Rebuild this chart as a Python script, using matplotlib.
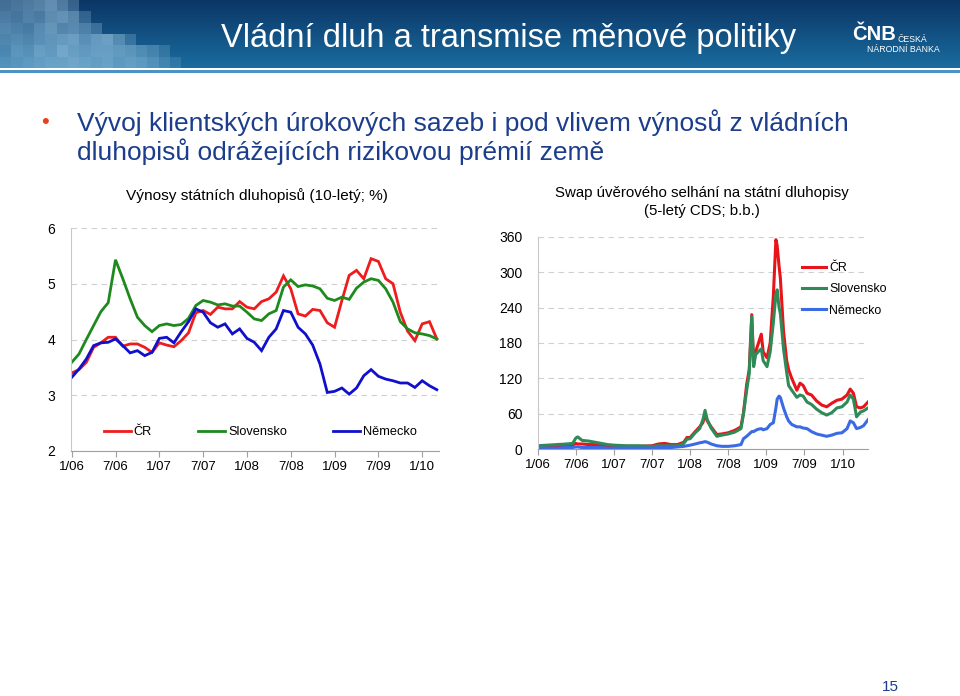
import numpy as np
import matplotlib.pyplot as plt
from matplotlib.patches import Rectangle
from matplotlib.lines import Line2D
from matplotlib.colors import to_rgb

plt.rcParams['font.family'] = ['Liberation Sans', 'DejaVu Sans']

# --- data -----------------------------------------------------------------
tick_labels = ['1/06', '7/06', '1/07', '7/07', '1/08', '7/08', '1/09', '7/09', '1/10']
tick_months = [0, 6, 12, 18, 24, 30, 36, 42, 48]

# 10y government bond yields, monthly 1/06 - 3/10 (%)
cz_yield = [3.40, 3.46, 3.59, 3.86, 3.94, 4.04, 4.04, 3.88, 3.92, 3.92, 3.86, 3.77,
            3.94, 3.90, 3.87, 3.98, 4.12, 4.48, 4.52, 4.45, 4.58, 4.55, 4.55, 4.68,
            4.58, 4.55, 4.68, 4.73, 4.85, 5.14, 4.91, 4.46, 4.42, 4.54, 4.52, 4.30,
            4.22, 4.70, 5.15, 5.24, 5.09, 5.45, 5.40, 5.09, 5.00, 4.49, 4.15, 3.98,
            4.28, 4.32, 4.01]
sk_yield = [3.59, 3.74, 4.00, 4.25, 4.50, 4.66, 5.43, 5.09, 4.73, 4.40, 4.25, 4.14,
            4.25, 4.28, 4.25, 4.27, 4.38, 4.61, 4.70, 4.67, 4.62, 4.64, 4.60, 4.60,
            4.49, 4.37, 4.34, 4.46, 4.52, 4.94, 5.07, 4.95, 4.98, 4.96, 4.91, 4.74,
            4.70, 4.76, 4.72, 4.92, 5.03, 5.09, 5.06, 4.91, 4.67, 4.32, 4.19, 4.12,
            4.10, 4.07, 4.01]
de_yield = [3.32, 3.47, 3.65, 3.89, 3.94, 3.95, 4.01, 3.89, 3.76, 3.80, 3.71, 3.77,
            4.02, 4.04, 3.94, 4.14, 4.32, 4.55, 4.49, 4.30, 4.22, 4.28, 4.10, 4.19,
            4.02, 3.95, 3.80, 4.04, 4.19, 4.52, 4.49, 4.22, 4.10, 3.90, 3.56, 3.05,
            3.07, 3.13, 3.02, 3.13, 3.35, 3.46, 3.34, 3.29, 3.26, 3.22, 3.22, 3.14,
            3.26, 3.17, 3.10]

# 5y CDS (bp); time in months since 1/06
cds_month = [0.0, 1.5, 3.0, 4.5, 5.5, 6.0, 6.3, 7.0, 8.0, 9.0, 10.0, 11.0, 12.0, 14.0,
             16.0, 18.0, 19.0, 20.0, 21.0, 22.0, 23.0, 23.5, 24.0, 24.8, 25.5, 26.0,
             26.35, 26.7, 27.3, 28.2, 29.0, 30.0, 31.0, 32.0, 32.4, 32.9, 33.3, 33.7,
             34.0, 34.3, 34.7, 35.2, 35.5, 36.1, 36.6, 37.1, 37.5, 37.7, 38.0, 38.2,
             38.7, 39.2, 39.5, 40.0, 40.8, 41.3, 41.8, 42.4, 43.1, 43.9, 44.7, 45.5,
             46.3, 47.1, 47.9, 48.7, 49.2, 49.7, 50.2, 50.8, 51.3, 52.0]
cz_cds = [5, 5, 6, 7, 7, 10, 9, 9, 8, 8, 7, 6, 5, 5,
          5, 6, 9, 10, 8, 8, 12, 20, 20, 30, 38, 45,
          58, 48, 38, 25, 26, 28, 32, 38, 62, 110, 135, 228,
          145, 165, 178, 195, 165, 155, 180, 260, 355, 345, 310, 290,
          200, 150, 135, 120, 100, 112, 108, 95, 92, 82, 75, 72,
          78, 83, 85, 92, 102, 95, 72, 70, 72, 80]
sk_cds = [6, 7, 8, 9, 10, 19, 21, 15, 14, 12, 10, 8, 7, 6,
          6, 5, 6, 6, 6, 6, 10, 17, 18, 28, 35, 50,
          66, 50, 36, 22, 24, 26, 29, 35, 60, 100, 128, 225,
          140, 160, 165, 170, 150, 140, 165, 215, 262, 270, 240, 230,
          170, 130, 108, 100, 88, 92, 90, 80, 76, 68, 62, 58,
          62, 70, 72, 80, 92, 85, 55, 63, 65, 70]
de_cds = [2, 2, 2, 3, 3, 4, 4, 3, 3, 3, 3, 2, 2, 2,
          2, 2, 3, 3, 3, 4, 5, 6, 7, 9, 11, 12,
          13, 12, 9, 6, 5, 5, 6, 8, 18, 22, 26, 30,
          30, 32, 34, 35, 33, 35, 42, 45, 70, 85, 90, 88,
          70, 55, 48, 42, 38, 38, 36, 35, 30, 26, 24, 22,
          24, 27, 28, 35, 48, 45, 35, 37, 40, 50]

names = ['ČR', 'Slovensko', 'Německo']

W, H = 960, 696
fig = plt.figure(figsize=(W / 100, H / 100), dpi=100)


def box(x0, y0, x1, y1):
    # pixel box (top-left origin) -> figure fraction
    return [x0 / W, 1 - y1 / H, (x1 - x0) / W, (y1 - y0) / H]


# --- banner ---------------------------------------------------------------
ban = fig.add_axes(box(0, 0, W, 68))
top_c = np.array(to_rgb('#0b3666'))
bot_c = np.array(to_rgb('#1a6c9f'))
t = np.linspace(0, 1, 68)[:, None, None]
grad = top_c * (1 - t) + bot_c * t
grad = np.repeat(grad, 2, axis=1)
ban.imshow(grad, extent=(0, W, 68, 0), aspect='auto')
ban.set_xlim(0, W)
ban.set_ylim(68, 0)
ban.axis('off')

mosaic = [
    [.45, .50, .55, .60, .70, .55, .35, 0, 0, 0, 0, 0, 0, 0, 0, 0],
    [.50, .45, .55, .50, .65, .70, .60, .30, 0, 0, 0, 0, 0, 0, 0, 0],
    [.55, .50, .45, .60, .70, .55, .60, .50, .35, 0, 0, 0, 0, 0, 0, 0],
    [.50, .55, .50, .60, .65, .70, .75, .60, .70, .75, .55, .30, 0, 0, 0, 0],
    [.45, .60, .55, .70, .65, .80, .70, .65, .70, .70, .65, .60, .50, .40, .25, 0],
    [.50, .55, .60, .65, .70, .70, .75, .70, .65, .70, .60, .65, .60, .50, .35, .20],
]
light = '#a8d0ea'
sq = 68 / 6
for r, row in enumerate(mosaic):
    for c, a in enumerate(row):
        if a > 0:
            ban.add_patch(Rectangle((c * sq, r * sq), sq, sq, color=light,
                                    alpha=a * 0.8, lw=0))

fig.text(509 / W, 1 - 39 / H, 'Vládní dluh a transmise měnové politiky',
         color='white', fontsize=23.5, ha='center', va='center')
fig.text(852 / W, 1 - 34 / H, 'ČNB', color='white', fontsize=14.5, fontweight='bold',
         ha='left', va='center')
fig.text(897 / W, 1 - 39 / H, 'ČESKÁ', color='white', fontsize=6.3,
         ha='left', va='center')
fig.text(903 / W, 1 - 50 / H, 'NÁRODNÍ BANKA', color='white', fontsize=6.3,
         ha='center', va='center')

line_ax = fig.add_axes(box(0, 70, W, 73))
line_ax.set_facecolor('#4a93c4')
line_ax.set_xticks([])
line_ax.set_yticks([])
for s in line_ax.spines.values():
    s.set_visible(False)

# --- bullet text ----------------------------------------------------------
txt_c = '#1b3d8c'
fig.text(45 / W, 1 - 123 / H, '•', color='#e8401c', fontsize=16, ha='center', va='center')
fig.text(77 / W, 1 - 123 / H, 'Vývoj klientských úrokových sazeb i pod vlivem výnosů z vládních',
         color=txt_c, fontsize=19, ha='left', va='center')
fig.text(77 / W, 1 - 152 / H, 'dluhopisů odrážejících rizikovou prémií země',
         color=txt_c, fontsize=19, ha='left', va='center')
fig.text(890 / W, 1 - 687 / H, '15', color=txt_c, fontsize=11, ha='center', va='center')


def style(ax):
    for s in ['top', 'right']:
        ax.spines[s].set_visible(False)
    ax.spines['left'].set_color('#c8c8c8')
    ax.spines['bottom'].set_color('#a0a0a0')
    ax.grid(axis='y', color='#d0d0d0', linestyle=(0, (5, 4)), linewidth=0.8)
    ax.set_axisbelow(True)
    ax.tick_params(axis='y', length=0, labelsize=10, pad=11)
    ax.tick_params(axis='x', length=4, color='#a0a0a0', labelsize=9.5, pad=3)
    ax.set_xticks(tick_months)
    ax.set_xticklabels(tick_labels)


# --- left chart: yields ---------------------------------------------------
ax1 = fig.add_axes(box(70.7, 228, 439, 451))
idx = np.arange(len(cz_yield))
cols1 = ['#ee1c1c', '#1e8a1e', '#1010cc']
for vals, c in zip([cz_yield, sk_yield, de_yield], cols1):
    ax1.plot(idx, vals, color=c, lw=2.0, solid_joinstyle='miter')
ax1.set_xlim(-0.137, 50.3)
ax1.set_ylim(2, 6)
ax1.set_yticks([2, 3, 4, 5, 6])
style(ax1)
h1 = [Line2D([], [], color=c, lw=2.0) for c in cols1]
ax1.legend(h1, names, loc='center', bbox_to_anchor=(0.515, 0.085), ncol=3,
           frameon=False, fontsize=9.2, handlelength=2.1, handletextpad=0.25,
           columnspacing=3.6)
fig.text(257 / W, 1 - 196 / H, 'Výnosy státních dluhopisů (10-letý; %)',
         fontsize=11.1, ha='center', va='center')

# --- right chart: CDS -----------------------------------------------------
ax2 = fig.add_axes(box(537.7, 236.7, 868, 449.3))
cols2 = ['#e8141a', '#2e8b57', '#3a6ae6']
for vals, c in zip([cz_cds, sk_cds, de_cds], cols2):
    ax2.plot(cds_month, vals, color=c, lw=2.2)
ax2.set_xlim(0, 52.0)
ax2.set_ylim(0, 360)
ax2.set_yticks([0, 60, 120, 180, 240, 300, 360])
style(ax2)
h2 = [Line2D([], [], color=c, lw=2.2) for c in cols2]
ax2.legend(h2, names, loc='upper left', bbox_to_anchor=(0.78, 0.91), frameon=False,
           fontsize=8.9, handlelength=2.0, handletextpad=0.25, labelspacing=0.75,
           borderpad=0)
fig.text(702 / W, 1 - 193 / H, 'Swap úvěrového selhání na státní dluhopisy',
         fontsize=10.8, ha='center', va='center')
fig.text(702 / W, 1 - 211 / H, '(5-letý CDS; b.b.)',
         fontsize=10.8, ha='center', va='center')

fig.savefig('out.png', dpi=100)
